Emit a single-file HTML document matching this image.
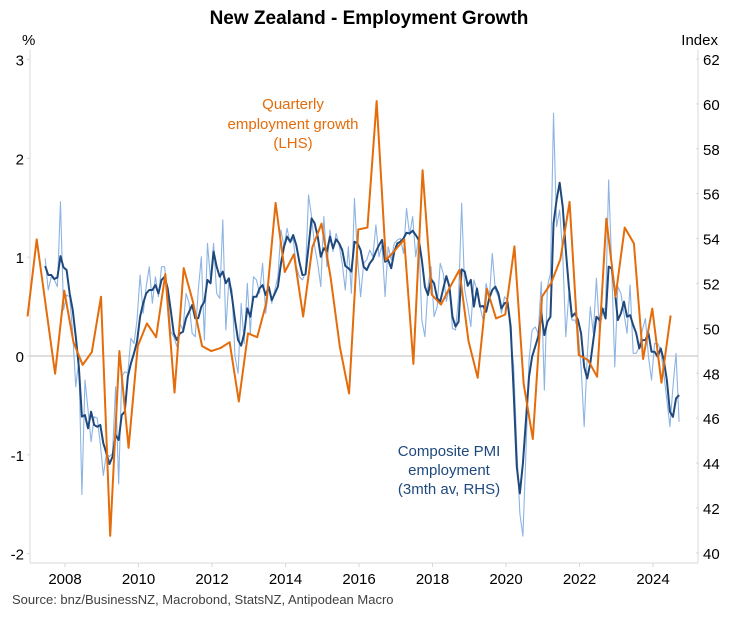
<!DOCTYPE html>
<html><head><meta charset="utf-8"><style>
body{margin:0;background:#fff;}
svg{display:block;font-family:"Liberation Sans",Arial,sans-serif;}
</style></head><body>
<svg id="chart" width="738" height="617" viewBox="0 0 738 617" xmlns="http://www.w3.org/2000/svg">
<rect width="738" height="617" fill="#fff"/>
<text x="369" y="24" text-anchor="middle" font-size="19" font-weight="bold" fill="#000">New Zealand - Employment Growth</text>
<text x="22" y="45" font-size="15" fill="#000">%</text>
<text x="718" y="45" text-anchor="end" font-size="15" fill="#000">Index</text>
<g id="axes"></g>
<g id="series"></g>
<text fill="#E46C0A" font-size="15" text-anchor="middle">
<tspan x="293" y="109">Quarterly</tspan><tspan x="293" y="129">employment growth</tspan><tspan x="293" y="148">(LHS)</tspan></text>
<text fill="#1F497D" font-size="15" text-anchor="middle">
<tspan x="449" y="456">Composite PMI</tspan><tspan x="449" y="475">employment</tspan><tspan x="449" y="494">(3mth av, RHS)</tspan></text>
<text x="12" y="604" font-size="13" fill="#404040">Source: bnz/BusinessNZ, Macrobond, StatsNZ, Antipodean Macro</text>
</svg>
<script>
const leftTicks=[3,2,1,0,-1,-2];
const rightTicks=[62,60,58,56,54,52,50,48,46,44,42,40];
const yearTicks=[2008,2010,2012,2014,2016,2018,2020,2022,2024];
const quarterlyStart=2006.98;
const quarterlyGrowth=[0.40,1.18,0.50,-0.18,0.66,0.14,-0.09,0.04,0.60,-1.82,0.05,-0.93,0.10,0.33,0.19,0.83,-0.37,0.89,0.55,0.10,0.05,0.08,0.14,-0.46,0.23,0.19,0.54,1.55,0.85,1.03,0.40,1.10,1.34,0.79,0.09,-0.38,1.28,1.30,2.58,0.97,1.07,1.18,-0.08,1.88,0.62,0.52,0.70,0.87,0.15,-0.22,0.68,0.38,0.42,1.11,-0.28,-0.84,0.60,0.74,0.98,1.56,0.01,-0.04,-0.21,1.39,0.60,1.30,1.14,-0.03,0.48,-0.27,0.41];
const monthlyStart=2007.46;
const pmiAvg=[52.78,52.38,52.38,52.20,52.27,53.22,52.72,52.60,51.56,50.82,49.63,48.29,46.07,46.14,45.55,46.29,45.70,45.62,45.70,44.88,44.44,43.96,44.29,45.25,45.03,46.14,46.29,47.85,48.44,48.89,49.41,50.52,51.12,51.56,51.71,51.71,51.93,51.56,52.16,52.30,51.79,50.82,49.78,49.48,49.78,49.85,50.45,50.74,51.04,50.45,50.45,
50.97,51.19,52.16,52.01,53.42,52.75,52.30,52.53,52.01,52.23,51.41,50.37,49.48,49.23,49.78,50.89,50.52,51.41,51.41,51.78,51.93,51.49,51.86,51.26,51.56,51.86,52.90,53.64,54.09,53.86,54.16,53.71,52.97,52.38,52.41,53.64,54.90,54.68,54.09,53.19,53.57,53.42,54.09,53.57,53.97,53.79,53.49,52.78,52.68,52.53,53.86,53.79,53.49,52.75,
52.60,52.90,53.08,53.42,53.71,53.94,52.97,53.05,52.68,53.42,53.79,53.86,54.01,54.26,54.23,54.35,54.16,53.94,53.05,51.86,51.49,52.19,52.01,51.34,51.20,51.78,52.33,51.86,50.52,50.08,50.30,52.63,52.53,51.90,52.16,50.97,51.78,50.97,51.00,50.74,51.34,51.71,51.86,51.56,50.89,51.12,51.16,50.08,47.11,43.84,42.65,43.99,45.92,
47.85,48.74,49.18,49.63,50.67,49.70,50.30,50.52,54.68,55.72,56.49,55.42,53.49,51.86,50.52,50.67,50.37,49.78,48.29,47.77,48.44,49.48,50.52,50.37,50.89,50.44,52.75,52.67,51.71,50.37,50.67,51.19,50.52,50.59,50.15,49.78,49.11,49.48,49.48,49.78,48.96,48.96,48.74,49.11,48.59,47.70,46.29,46.06,46.88,47.03];
const pmiRaw=[53.12,51.71,52.30,52.16,51.86,55.64,50.82,51.49,51.41,49.78,47.40,48.59,42.60,47.70,46.37,44.95,46.07,46.00,44.88,43.45,44.43,44.29,44.43,47.40,43.07,47.85,48.07,48.00,49.56,49.33,50.37,52.38,50.67,51.86,52.75,51.12,52.30,51.41,52.75,52.75,51.56,49.85,49.63,49.19,50.22,49.93,51.56,51.12,49.78,49.63,51.71,
53.19,49.48,53.79,52.16,53.79,51.56,51.34,54.83,49.93,52.16,51.71,48.74,48.00,51.12,49.33,52.01,49.78,52.30,52.16,51.56,52.90,50.67,51.86,51.12,51.71,52.30,54.38,53.64,54.46,53.79,54.01,52.75,52.30,52.16,52.45,55.94,54.98,53.64,52.90,51.86,54.98,52.75,54.38,53.42,54.23,53.71,52.90,51.71,53.64,51.56,55.79,53.19,51.41,52.90,
53.05,53.49,53.19,54.61,53.19,53.71,51.41,53.64,53.05,53.79,53.94,54.01,53.34,55.35,54.16,54.98,53.19,54.09,50.37,49.63,51.86,52.75,50.52,50.97,52.90,52.45,51.20,51.86,50.00,49.93,51.41,55.57,51.71,50.97,50.08,52.16,51.71,50.97,50.37,52.00,51.26,53.34,51.71,51.41,50.67,51.41,51.26,49.63,48.29,44.73,41.76,40.75,44.50,
48.59,49.92,50.07,49.78,52.08,47.25,51.86,52.45,59.58,54.53,55.27,53.34,49.63,51.56,50.37,50.37,49.92,48.29,45.62,48.74,50.96,49.78,52.23,49.92,50.67,50.96,56.61,52.75,48.29,51.86,51.56,50.67,49.78,51.93,48.89,48.89,49.18,49.92,50.44,48.74,47.70,49.33,49.33,49.03,48.00,46.81,45.62,47.40,48.89,45.84];

const NS='http://www.w3.org/2000/svg';
const X0=30,X1=698,YB=563;
function xT(t){return 65+(t-2008)*36.75;}
function yL(v){return 356-98.8*v;}
function yR(v){return 59+(62-v)*22.45;}
function mk(tag,attrs,parent){const e=document.createElementNS(NS,tag);for(const k in attrs)e.setAttribute(k,attrs[k]);parent.appendChild(e);return e;}
const axes=document.getElementById('axes'),ser=document.getElementById('series');

let a=mk('line',{x1:X0,y1:50,x2:X0,y2:YB,stroke:'#d9d9d9','stroke-width':1},axes);


a=mk('line',{x1:X1,y1:50,x2:X1,y2:YB,stroke:'#d9d9d9','stroke-width':1},axes);


a=mk('line',{x1:X0,y1:YB,x2:X1,y2:YB,stroke:'#d9d9d9','stroke-width':1},axes);


a=mk('line',{x1:X0,y1:yL(0),x2:X1,y2:yL(0),stroke:'#bfbfbf','stroke-width':1},axes);



leftTicks.forEach(v=>{
  const t=mk('text',{x:24,y:yL(v)+6,'text-anchor':'end','font-size':15,fill:'#000'},axes);
  t.textContent=v;
  
  
  const k=mk('line',{x1:X0-3,y1:yL(v),x2:X0,y2:yL(v),stroke:'#d9d9d9'},axes);
  
  
});
rightTicks.forEach(v=>{
  const t=mk('text',{x:703,y:yR(v)+6,'font-size':15,fill:'#000'},axes);
  t.textContent=v;
  
  
  const k=mk('line',{x1:X1-2,y1:yR(v),x2:X1+1,y2:yR(v),stroke:'#d9d9d9'},axes);
  
  
});
yearTicks.forEach(y=>{
  const t=mk('text',{x:xT(y),y:584,'text-anchor':'middle','font-size':15,fill:'#000'},axes);
  t.textContent=y;
  
  
  const k=mk('line',{x1:xT(y),y1:YB,x2:xT(y),y2:YB+4,stroke:'#d9d9d9'},axes);
  
  
});

function path(vals,tf,yf){return vals.map((v,i)=>(i?'L':'M')+xT(tf(i)).toFixed(2)+','+yf(v).toFixed(2)).join('');}
let p=mk('path',{d:path(pmiRaw,i=>monthlyStart+i/12,yR),fill:'none',stroke:'#8DB4E2','stroke-width':1.1,'stroke-linejoin':'round'},ser);


p=mk('path',{d:path(pmiAvg,i=>monthlyStart+i/12,yR),fill:'none',stroke:'#1F497D','stroke-width':2,'stroke-linejoin':'round'},ser);


p=mk('path',{d:path(quarterlyGrowth,i=>quarterlyStart+i*0.25,yL),fill:'none',stroke:'#E46C0A','stroke-width':2,'stroke-linejoin':'round'},ser);


</script>
</body></html>
